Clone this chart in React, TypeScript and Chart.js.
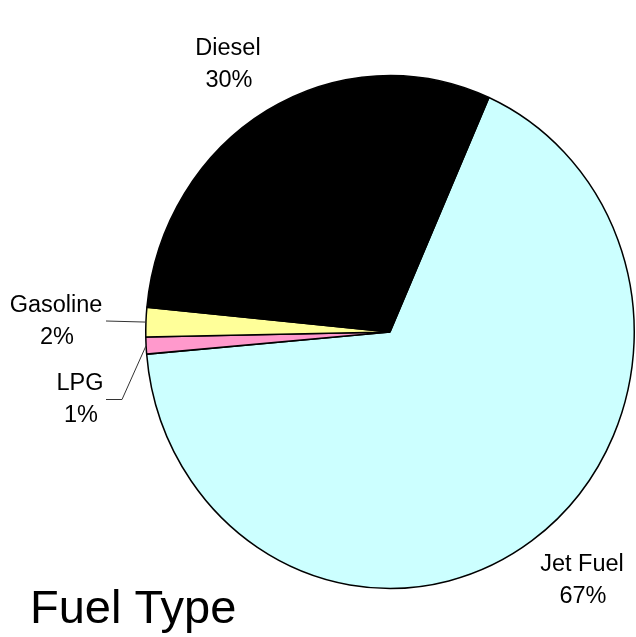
import React, { useEffect, useRef } from "react";
import { Chart, registerables } from "chart.js";

Chart.register(...registerables);

const categories = ["Jet Fuel", "LPG", "Gasoline", "Diesel"];
const shares = [67.0, 1.06, 1.86, 30.1];
const sliceColors = ["#CCFFFF", "#FF99CC", "#FFFF99", "#000000"];
const chartTitle = "Fuel Type";

const Y_STRETCH = 1.05;
const FONT = "Arial, 'Liberation Sans', Helvetica, sans-serif";

// label anchor positions (layout only)
const labelPos: Record<string, { x: number; y: number; lineFrom?: number[][] }> = {
  "Jet Fuel": { x: 582, y: 565 },
  LPG: { x: 80, y: 384, lineFrom: [[106, 399.5], [122, 399.5]] },
  Gasoline: { x: 56, y: 306, lineFrom: [[106, 321]] },
  Diesel: { x: 228, y: 49 },
};

const stretchPlugin = {
  id: "stretch",
  beforeDatasetsDraw(chart: any) {
    const arc = chart.getDatasetMeta(0).data[0];
    const ctx = chart.ctx;
    ctx.save();
    ctx.translate(arc.x, arc.y);
    ctx.scale(1, Y_STRETCH);
    ctx.translate(-arc.x, -arc.y);
  },
  afterDatasetsDraw(chart: any) {
    chart.ctx.restore();
  },
};

const labelPlugin = {
  id: "labels",
  afterDraw(chart: any) {
    const ctx = chart.ctx;
    const meta = chart.getDatasetMeta(0);
    ctx.save();
    meta.data.forEach((arc: any, i: number) => {
      const name = categories[i];
      const pos = labelPos[name];
      if (!pos) return;
      const { x, y, startAngle, endAngle, outerRadius } = arc.getProps(
        ["x", "y", "startAngle", "endAngle", "outerRadius"],
        true
      );
      if (pos.lineFrom) {
        const mid = (startAngle + endAngle) / 2;
        const ex = x + Math.cos(mid) * outerRadius;
        const ey = y + Math.sin(mid) * outerRadius * Y_STRETCH;
        ctx.strokeStyle = "#333333";
        ctx.lineWidth = 1;
        ctx.beginPath();
        pos.lineFrom.forEach((p, k) => {
          if (k === 0) ctx.moveTo(p[0], p[1]);
          else ctx.lineTo(p[0], p[1]);
        });
        ctx.lineTo(ex, ey);
        ctx.stroke();
      }
      ctx.fillStyle = "#000000";
      ctx.font = `23.5px ${FONT}`;
      ctx.textAlign = "center";
      ctx.textBaseline = "middle";
      ctx.fillText(name, pos.x, pos.y);
      ctx.fillText(`${Math.round(shares[i])}%`, pos.x + 1, pos.y + 32);
    });
    ctx.font = `47px ${FONT}`;
    ctx.textAlign = "left";
    ctx.textBaseline = "alphabetic";
    ctx.fillText(chartTitle, 30, 623);
    ctx.restore();
  },
};

export default function App() {
  const ref = useRef<HTMLCanvasElement>(null);
  useEffect(() => {
    document.body.style.margin = "0";
    const canvas = ref.current!;
    const chart = new Chart(canvas, {
      type: "pie",
      data: {
        labels: categories,
        datasets: [
          {
            data: shares,
            backgroundColor: sliceColors,
            borderColor: "#000000",
            borderWidth: 1.5,
            clip: false as any,
          },
        ],
      },
      options: {
        responsive: false,
        animation: false,
        rotation: 23.9,
        layout: { padding: { left: 145, right: 1, top: 87, bottom: 60 } },
        plugins: {
          legend: { display: false },
          tooltip: { enabled: false },
          title: { display: false },
        },
      },
      plugins: [stretchPlugin, labelPlugin],
    });
    return () => chart.destroy();
  }, []);
  return (
    <div style={{ width: 636, height: 637, background: "#fff" }}>
      <canvas ref={ref} width={636} height={637} />
    </div>
  );
}
